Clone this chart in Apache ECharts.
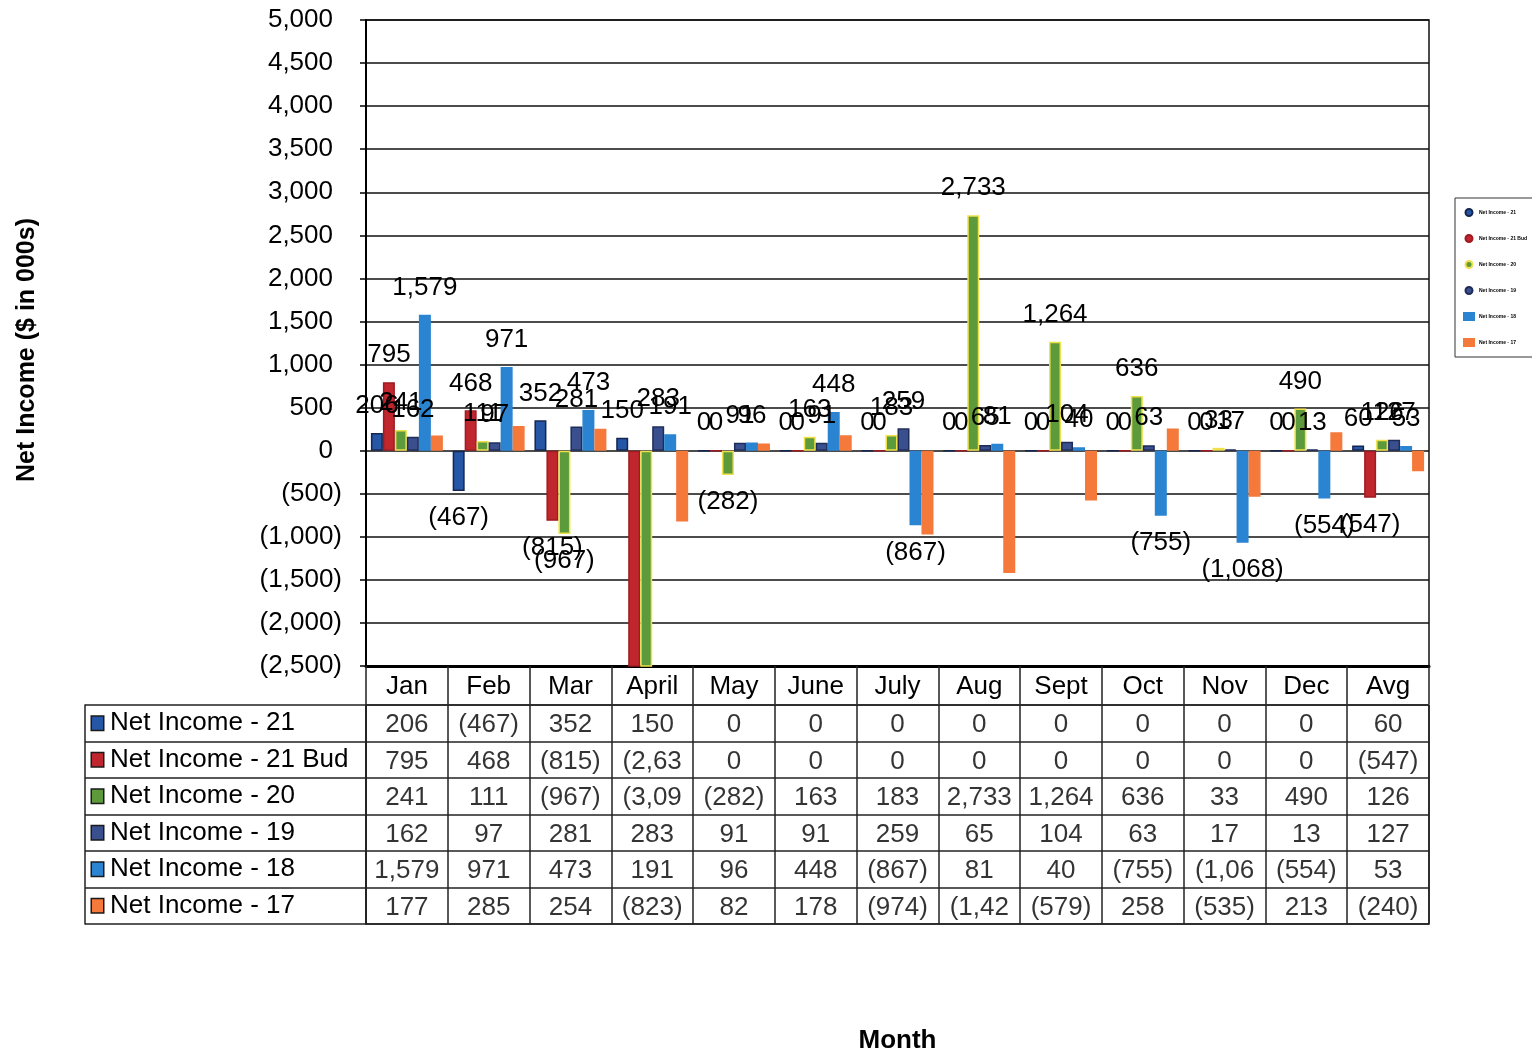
<!DOCTYPE html>
<html>
<head>
<meta charset="utf-8">
<script src="https://cdn.jsdelivr.net/npm/echarts@6/dist/echarts.min.js"></script>
<style>
html,body{margin:0;padding:0;background:#fff;}
#chart{width:1532px;height:1055px;}
</style>
</head>
<body>
<div id="chart"></div>
<script>
// ---- data ----
const months = ['Jan','Feb','Mar','April','May','June','July','Aug','Sept','Oct','Nov','Dec','Avg'];
const seriesNames = ['Net Income - 21','Net Income - 21 Bud','Net Income - 20','Net Income - 19','Net Income - 18','Net Income - 17'];
const ni21    = [206,-467,352,150,0,0,0,0,0,0,0,0,60];
const ni21Bud = [795,468,-815,-2630,0,0,0,0,0,0,0,0,-547];
const ni20    = [241,111,-967,-3090,-282,163,183,2733,1264,636,33,490,126];
const ni19    = [162,97,281,283,91,91,259,65,104,63,17,13,127];
const ni18    = [1579,971,473,191,96,448,-867,81,40,-755,-1068,-554,53];
const ni17    = [177,285,254,-823,82,178,-974,-1420,-579,258,-535,213,-240];
const yMin = -2500, yMax = 5000, yStep = 500;
const labelled = [true,true,true,true,true,false];

// ---- styles ----
const allValues = [ni21, ni21Bud, ni20, ni19, ni18, ni17];
const fills   = ['#2656a6','#c0262e','#5c9a3c','#3a4f8e','#2a84d2','#f5793a'];
const borders = ['#14264f','#9e1b22','#f0e04a','#1e2c5a','#2a84d2','#f5793a'];
const FONT = 'Liberation Sans, Arial, sans-serif';

function commas(n){ return String(n).replace(/\B(?=(\d{3})+(?!\d))/g, ','); }
function fmt(v){ return v < 0 ? '(' + commas(-v) + ')' : commas(v); }
function cellFmt(v){ const s = fmt(v); return s.length > 5 ? s.slice(0,5) : s; }

const chart = echarts.init(document.getElementById('chart'), null, {renderer:'canvas'});

const barSeries = allValues.map((vals, i) => ({
  name: seriesNames[i],
  type: 'bar',
  xAxisIndex: 0, yAxisIndex: 0,
  data: vals.map(v => ({value: v, label: {position: v < 0 ? 'outside' : 'top'}})),
  barGap: '0%',
  barCategoryGap: '12%',
  itemStyle: {color: fills[i], borderColor: borders[i], borderWidth: 1.5},
  label: {
    show: labelled[i],
    distance: 14,
    fontFamily: FONT, fontSize: 26, color: '#000',
    formatter: p => (p.value < yMin || p.value > yMax) ? '' : fmt(p.value)
  },
  emphasis: {disabled: true}
}));

const tableData = [];
allValues.forEach((vals, i) => vals.forEach((v, j) => tableData.push([j, i, v])));

const rich = {t: {fontFamily: FONT, fontSize: 26, color: '#000', padding: [0,0,0,7]}};
fills.forEach((c, i) => {
  rich['s' + i] = {width: 11, height: 13, backgroundColor: c, borderColor: '#1a1a1a', borderWidth: 1.5};
});

const option = {
  backgroundColor: '#fff',
  animation: false,
  textStyle: {fontFamily: FONT},
  legend: {
    orient: 'vertical',
    left: 1455, top: 198,
    itemWidth: 10, itemHeight: 7, itemGap: 17,
    padding: [10, 40, 10, 8],
    borderColor: '#333', borderWidth: 1,
    textStyle: {fontSize: 5, fontWeight: 'bold', color: '#000'},
    data: seriesNames.map((n, i) => ({name: n, icon: i < 4 ? 'circle' : 'rect'}))
  },
  grid: [
    {left: 366, top: 20, width: 1063, height: 646, show: true, borderColor: '#111', borderWidth: 1.5},
    {left: 366, top: 705, width: 1063, height: 232, show: true, borderColor: '#222', borderWidth: 1.5}
  ],
  xAxis: [
    {
      type: 'category', gridIndex: 0, data: months,
      axisLine: {show: true, onZero: false, lineStyle: {color: '#000', width: 3}},
      axisTick: {show: true, alignWithLabel: false, interval: 0, length: 38, lineStyle: {color: '#222', width: 1.5}},
      axisLabel: {interval: 0, fontFamily: FONT, fontSize: 26, color: '#000', margin: 8},
      splitLine: {show: false}
    },
    {
      type: 'category', gridIndex: 1, data: months,
      axisLine: {show: false}, axisTick: {show: false}, axisLabel: {show: false},
      splitLine: {show: true, interval: 0, lineStyle: {color: '#222', width: 1.5}},
      name: 'Month', nameLocation: 'middle', nameGap: 104,
      nameTextStyle: {fontFamily: FONT, fontSize: 26, fontWeight: 'bold', color: '#000'}
    }
  ],
  yAxis: [
    {
      type: 'value', gridIndex: 0, min: yMin, max: yMax, interval: yStep,
      axisLine: {show: true, lineStyle: {color: '#000', width: 2}},
      axisTick: {show: true, length: 6, lineStyle: {color: '#000', width: 1.5}},
      axisLabel: {
        fontFamily: FONT, fontSize: 26, color: '#000', margin: 24,
        formatter: v => v < 0 ? fmt(v) : '{p|' + fmt(v) + '}',
        rich: {p: {fontFamily: FONT, fontSize: 26, color: '#000', padding: [0, 9, 0, 0]}}
      },
      splitLine: {show: true, lineStyle: {color: '#111', width: 1.5}},
      name: 'Net Income ($ in 000s)', nameLocation: 'middle', nameRotate: 90, nameGap: 326,
      nameTextStyle: {fontFamily: FONT, fontSize: 25, fontWeight: 'bold', color: '#000', padding: [0, 14, 0, 0]}
    },
    {
      type: 'category', gridIndex: 1, data: seriesNames, inverse: true,
      axisLine: {show: true, lineStyle: {color: '#222', width: 1.5}},
      axisTick: {show: true, alignWithLabel: false, interval: 0, length: 281, lineStyle: {color: '#222', width: 1.5}},
      axisLabel: {
        interval: 0, align: 'left', margin: 274,
        formatter: (name, idx) => '{s' + idx + '|}{t|' + name + '}',
        rich: rich
      },
      splitLine: {show: true, interval: 0, lineStyle: {color: '#222', width: 1.5}}
    },
    {
      type: 'category', gridIndex: 1, data: seriesNames, inverse: true, position: 'left', offset: 281,
      axisLine: {show: true, lineStyle: {color: '#222', width: 1.5}},
      axisTick: {show: false}, axisLabel: {show: false}, splitLine: {show: false}
    }
  ],
  series: barSeries.concat([{
    name: 'table',
    type: 'scatter',
    xAxisIndex: 1, yAxisIndex: 1,
    data: tableData,
    symbolSize: 1,
    itemStyle: {color: 'rgba(0,0,0,0)'},
    label: {
      show: true, position: 'inside', offset: [0, 2],
      fontFamily: FONT, fontSize: 26, color: '#000',
      formatter: p => cellFmt(p.value[2])
    },
    emphasis: {disabled: true},
    silent: true
  }])
};
chart.setOption(option);
</script>
</body>
</html>
